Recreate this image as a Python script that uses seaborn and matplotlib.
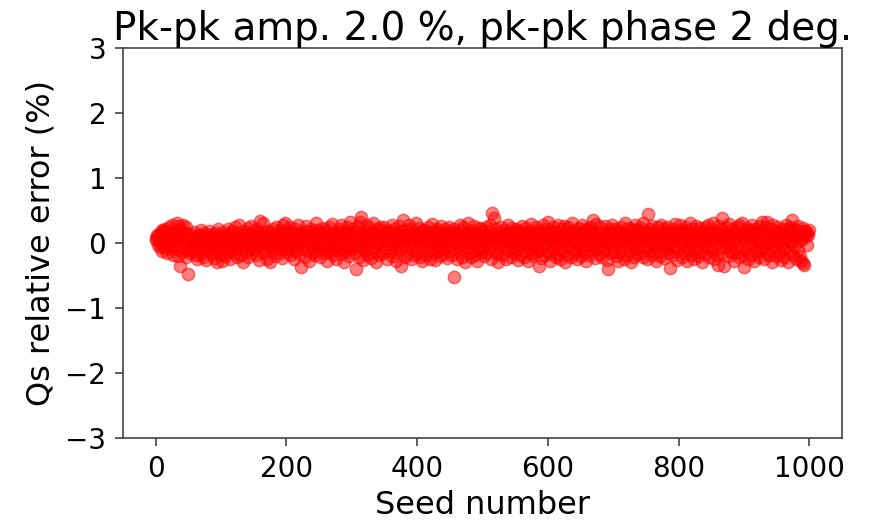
import numpy as np
import pandas as pd
import matplotlib
matplotlib.use("Agg")
import matplotlib.pyplot as plt
import seaborn as sns

# Qs relative error (%) per seed, in hundredths of a percent
err_hundredths = [
    5, 8, 12, -3, 10, 2, 15, -6, 7, 20, -12, 4, 18, 9, -8, 22, 1, -15, 11, 6,
    25, -4, 13, -10, 3, 28, -18, 8, 16, -2, 19, -9, 30, 5, -20, 12, 26, -35, 7, 21,
    -14, 10, 27, -6, 2, 15, -22, 24, -11, -48,
    3, -7, 14, -16, 9, -1, 6, -12, 17, -5, 0, -19, 8, 11, -24, 4, -9, 13, -3, 20,
    -15, 7, -21, 2, 16, -8, 10, -26, 5, -2, 12, -13, 19, -6, 1, -17, 9, 14, -10, 3,
    -23, 6, 15, -4, -29, 8, 21, -11, 2, -18,
    11, -27, 4, 17, -9, 0, -20, 13, 7, -14, 22, -3, 9, -25, 14, 5, -12, 18, -7, 1,
    -16, 24, -5, 10, -21, 3, 15, -9, 28, -2, 6, -18, 12, -30, 8, 19, -6, 2, -13, 16,
    -1, 23, -22, 7, 11, -8, 26, -15, 4, 13,
    -10, 18, 3, -19, 9, 21, -4, 14, -26, 6, 34, -7, 12, 0, 31, -16, 8, 17, -11, 2,
    -24, 10, 19, -3, 5, -29, 15, 7, -13, 22, -6, 1, 11, -20, 25, 4, -9, 16, -15, 8,
    13, -2, 20, -23, 6, 27, -10, 3, 30, -5,
    9, -14, 18, 1, -8, 24, -19, 12, 5, -3, 16, -25, 7, 21, -12, 2, 14, -6, 28, -17,
    10, 4, -37, 15, -9, 19, -2, 8, -21, 13, 26, -11, 3, 17, -27, 6, 11, -4, 22, -15,
    0, 18, -7, 9, -18, 14, 30, -13, 5, 20,
    -5, 12, -22, 7, 16, -1, 23, -10, 3, -16, 19, 8, -28, 11, -3, 25, 4, -14, 15, -8,
    29, -19, 6, 13, -6, 2, -24, 17, 9, -11, 21, -2, 10, -17, 27, 1, -9, 14, -30, 7,
    18, -13, 4, 24, -7, 12, -20, 8, 32, -4,
    15, -10, 22, 3, -15, 9, -40, 17, -5, 26, 0, -21, 33, 11, 40, -8, 6, -26, 19, 2,
    -12, 14, -3, 28, -18, 7, 23, -9, 12, -23, 5, 18, -14, 30, 1, -6, 16, -29, 9, 21,
    -2, 13, -19, 25, 4, -11, 20, 8, -16, 10,
    24, -7, 3, 17, -24, 11, -1, 19, 6, -13, 14, -20, 28, 2, -9, 22, -4, 9, -27, 16,
    5, -15, 12, 26, -10, 1, -35, 18, 7, 35, -6, 13, -22, 20, 4, -17, 10, 27, -3, 15,
    -25, 8, 21, -11, 0, 16, -19, 11, 31, -8,
    12, -14, 6, 23, -21, 9, -2, 18, -28, 4, 20, -6, 14, -18, 10, 2, 25, -12, 7, -24,
    17, 1, -9, 29, -15, 11, 5, -26, 19, -4, 8, 22, -13, 3, 15, -20, 26, -7, 12, -1,
    -17, 10, 21, -10, 6, -23, 16, 0, 24, -12,
    9, -5, 18, -19, 3, 13, -52, 22, -8, 7, 15, -25, 11, 1, -14, 27, -3, 19, -21, 6,
    24, -10, 8, 14, -29, 2, 17, -6, 30, -16, 5, 12, -22, 20, -2, 9, -12, 26, 0, -18,
    16, 4, -27, 11, 23, -8, 7, -14, 21, 3,
    -11, 18, 6, -20, 13, -4, 25, -15, 10, 2, 19, -7, 28, -24, 8, 46, -1, 14, 38, -12,
    22, 5, -17, 11, -30, 17, 0, -9, 24, 7, -19, 13, 3, 20, -6, 9, -25, 16, -2, 27,
    -13, 6, 15, -21, 1, 23, -8, 12, -16, 18,
    4, -10, 21, 8, -26, 14, -3, 19, -18, 10, 26, -5, 2, -22, 16, 7, -13, 23, -1, 11,
    -28, 18, 5, -9, 29, -16, 12, 0, -20, 15, 9, -7, 24, -14, 3, 20, -11, -35, 17, 6,
    -23, 13, 27, -4, 10, -19, 1, 22, -12, 8,
    33, -15, 14, 4, -27, 19, -6, 11, 25, -10, 2, 17, -21, 8, -3, 28, -17, 13, 6, -24,
    21, -8, 10, -13, 26, 3, -29, 16, -1, 12, -18, 24, 7, -5, 18, -22, 9, 30, -11, 15,
    1, -16, 20, 5, -25, 12, -7, 23, -2, 14,
    -20, 10, 27, -9, 4, 18, -14, 8, -28, 22, 13, -3, 17, -19, 6, 25, -12, 0, 20, 35,
    -6, 14, -23, 9, 29, -10, 3, 16, -17, 11, 24, -4, 7, -21, 19, 1, -13, 26, -8, 12,
    5, -26, -40, 15, -2, 21, -15, 10, 28, -7,
    17, -12, 4, 22, -20, 9, -1, 19, -27, 13, 6, -16, 25, 2, -9, 16, -24, 11, 30, -5,
    14, -19, 8, 23, -13, 0, 18, -29, 7, 21, -3, 12, -22, 27, 5, -10, 15, -17, 20, 3,
    -8, 24, -15, 10, 1, 31, -21, 13, -6, 18,
    9, -25, 16, 45, -11, 6, 22, -4, 14, -18, 26, 2, -14, 19, -7, 11, -28, 8, 24, -1,
    13, -20, 5, 28, -12, 17, -3, 21, -23, 10, 0, 15, -9, 25, -16, 7, 19, -38, 12, 3,
    -19, 22, 8, -6, 29, -13, 14, -26, 4, 18,
    -10, 11, 27, -2, 16, -22, 6, 20, -15, 9, 24, -7, 13, -27, 3, 18, -11, 30, 1, -18,
    15, -4, 21, -24, 10, 7, -14, 26, -8, 12, -20, 17, 2, 23, -12, 5, -29, 14, 19, -3,
    8, -17, 25, 11, -6, 28, -21, 4, 16, -9,
    20, -13, 7, 31, -25, 12, -1, 18, -19, 9, -34, 14, 26, -8, 5, 22, 38, -15, 10, 2,
    -36, 17, -5, 24, 11, -20, 6, 29, -11, 13, -2, 21, -16, 8, 15, -27, 19, 3, -9, 25,
    -14, 10, 27, -22, 4, 16, -7, 31, -18, 12,
    -37, 18, 6, -12, 23, 1, -24, 14, -5, 20, 9, -19, 28, -3, 15, -28, 11, 22, -9, 4,
    -15, 17, 7, -21, 26, 2, -11, 19, 32, -6, 13, -25, 8, 24, -14, 10, 33, -2, -18, 16,
    5, -8, 21, -29, 12, 27, -13, 3, 18, -20,
    11, -4, 24, -16, 7, 19, -26, 14, 0, 22, -10, 16, -22, 9, 28, -7, 13, -30, 4, 20,
    -13, 25, 2, 17, 35, -18, 10, -5, 21, -24, 8, 15, -11, 26, 3, -20, 12, 18, -28, 6,
    -31, 23, -34, 14, 19, 10, -3, 17, 12, 20,
]

rel_error = [v / 100.0 for v in err_hundredths]
seed_number = list(range(len(rel_error)))

title_text = "Pk-pk amp. 2.0 %, pk-pk phase 2 deg."
x_label = "Seed number"
y_label = "Qs relative error (%)"
y_ticks = [-3, -2, -1, 0, 1, 2, 3]
x_ticks = [0, 200, 400, 600, 800, 1000]

df = pd.DataFrame({"seed": seed_number, "err": rel_error})

sns.set_style("ticks")
plt.rcParams["font.family"] = ["DejaVu Sans"]
plt.rcParams["text.color"] = "black"
plt.rcParams["axes.labelcolor"] = "black"
plt.rcParams["xtick.color"] = "#444444"
plt.rcParams["ytick.color"] = "#444444"
plt.rcParams["xtick.labelcolor"] = "black"
plt.rcParams["ytick.labelcolor"] = "black"

fig = plt.figure(figsize=(8.74, 5.25), dpi=100)
ax = fig.add_axes([0.1407, 0.1657, 0.8227, 0.7429])

sns.scatterplot(data=df, x="seed", y="err", ax=ax, color="red", alpha=0.5,
                s=80, edgecolor="red", linewidth=1.0, legend=False)

ax.set_ylim(-3, 3)
ax.set_xlim(-50, 1050)
ax.set_yticks(y_ticks)
ax.set_xticks(x_ticks)
ax.set_title(title_text, fontsize=28, pad=6, color="black")
ax.set_xlabel(x_label, fontsize=23, labelpad=5)
ax.set_ylabel(y_label, fontsize=23, labelpad=6)
ax.tick_params(axis="both", labelsize=20, length=6, width=1.2, pad=6)
for sp in ax.spines.values():
    sp.set_linewidth(1.2)
    sp.set_color("#444444")

fig.savefig("out.png", dpi=100)
